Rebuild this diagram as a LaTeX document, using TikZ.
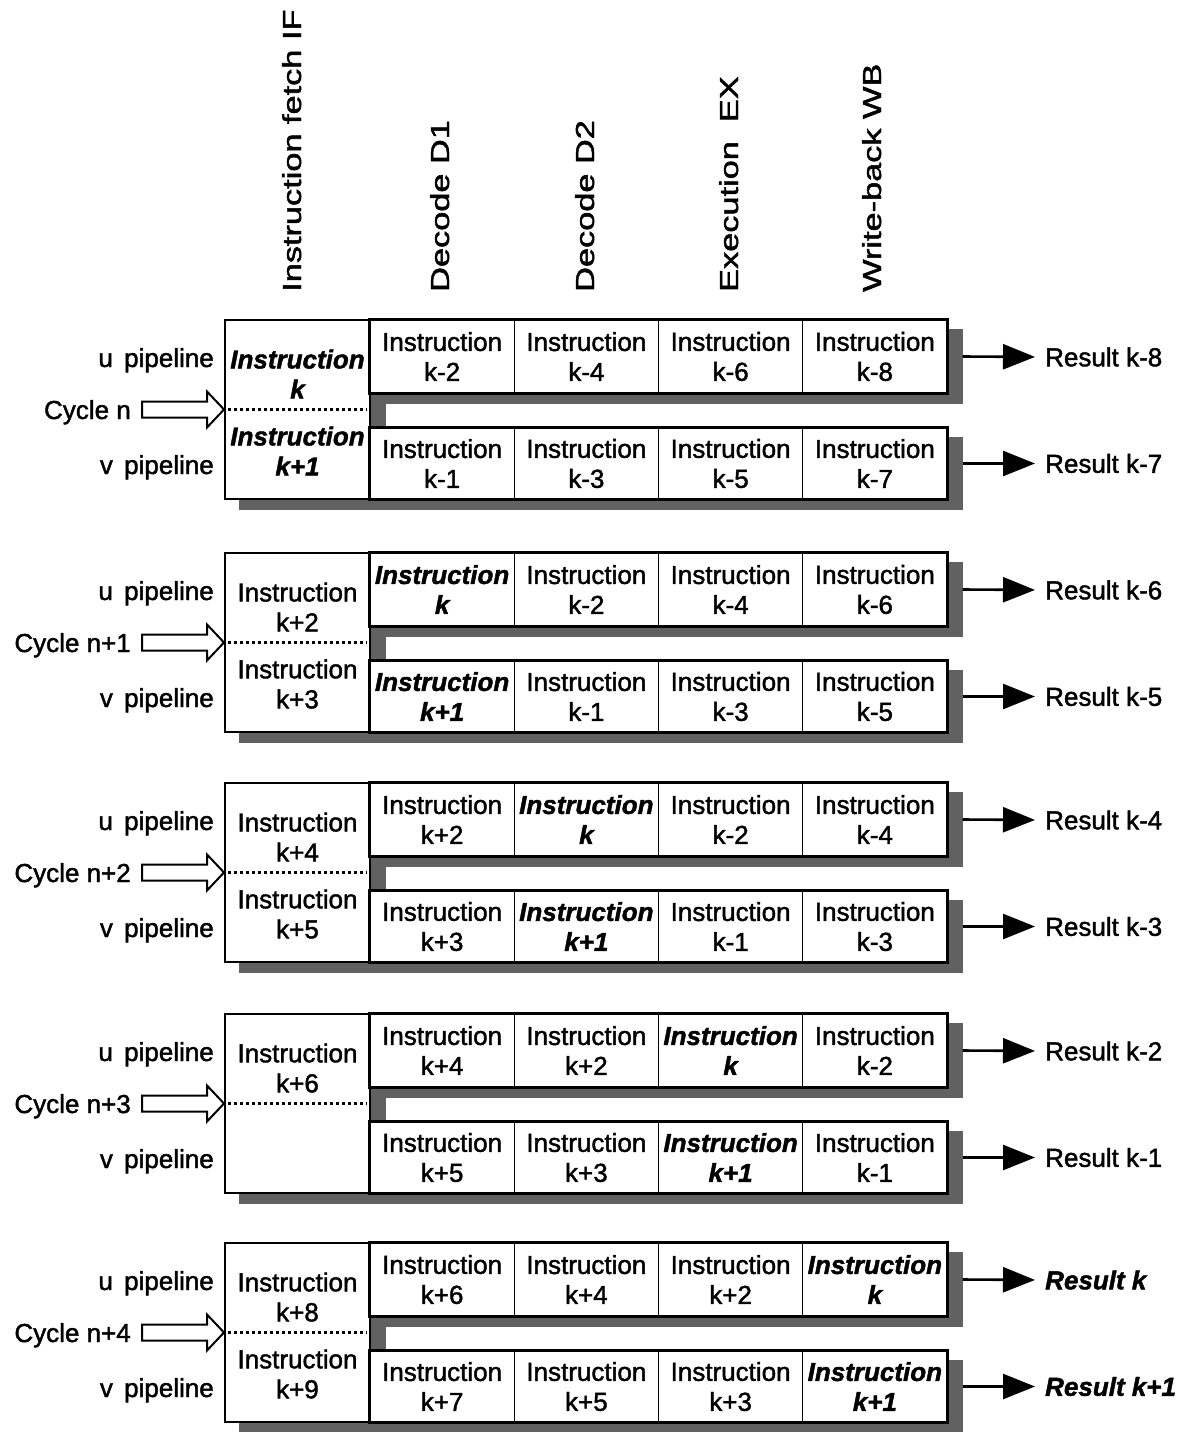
\documentclass[tikz,border=0pt]{standalone}
\usepackage{fontspec}
\usepackage{graphicx}
\setmainfont{Liberation Sans}[FakeBold=1.6]
\usetikzlibrary{arrows.meta}
\pgfdeclarelayer{bg}
\pgfsetlayers{bg,main}
\tikzset{
  txt/.style={font=\fontsize{26}{30}\selectfont, inner sep=0pt},
  hl/.style={font=\fontsize{26}{30}\selectfont\bfseries\itshape},
  cell/.style={txt, draw, line width=1.2pt, fill=white, minimum width=144.25pt, align=center},
  ucell/.style={cell, minimum height=73pt},
  vcell/.style={cell, minimum height=71pt},
  ifbox/.style={draw, line width=2pt, fill=white, minimum width=145pt, minimum height=179pt, inner sep=0pt},
  iftext/.style={txt, align=center},
  frame/.style={line width=2.2pt},
  shade/.style={fill=black!62},
  lab/.style={txt, anchor=base east},
  res/.style={txt, anchor=west},
  hdr/.style={txt, rotate=90, anchor=base west},
  cycarrow/.style={draw, line width=2pt, fill=white, line join=miter},
  outarrow/.style={line width=2.6pt, -{Triangle[length=32pt,width=25pt]}, shorten >=10pt},
  dotline/.style={line width=2.5pt, dash pattern=on 3pt off 3pt},
}
\newcommand\hdrtext[1]{\scalebox{1.32}[1]{#1}}
\begin{document}
\begin{tikzpicture}[x=1pt,y=-1pt]
\useasboundingbox (0,0) rectangle (1187,1432);

% column headers
\node[hdr] (h1) at (301,292) {\hdrtext{Instruction fetch IF}};
\node[hdr] (h2) at (449,292) {\hdrtext{Decode D1}};
\node[hdr] (h3) at (594,292) {\hdrtext{Decode D2}};
\node[hdr] (h4) at (738,292) {\hdrtext{Execution\ \ EX}};
\node[hdr] (h5) at (881,292) {\hdrtext{Write-back WB}};

% ---------------- block 1 : cycle n
\begin{scope}[shift={(0,320)}]
\node[ifbox] (if1) at (297.5,89.5) {};
\node[iftext,hl] (ifu1) at (297.5,54) {Instruction\\k};
\node[iftext,hl] (ifv1) at (297.5,131) {Instruction\\k+1};
\node[ucell] (u-1-1) at (442.125,36.5) {Instruction\\k-2};
\node[ucell] (u-1-2) at (586.375,36.5) {Instruction\\k-4};
\node[ucell] (u-1-3) at (730.625,36.5) {Instruction\\k-6};
\node[ucell] (u-1-4) at (874.875,36.5) {Instruction\\k-8};
\node[vcell] (v-1-1) at (442.125,143.5) {Instruction\\k-1};
\node[vcell] (v-1-2) at (586.375,143.5) {Instruction\\k-3};
\node[vcell] (v-1-3) at (730.625,143.5) {Instruction\\k-5};
\node[vcell] (v-1-4) at (874.875,143.5) {Instruction\\k-7};
\node[lab] (up1) at (214,47) {u\hspace{4pt} pipeline};
\node[lab] (vp1) at (214,154) {v\hspace{4pt} pipeline};
\node[lab] (cy1) at (131,99) {Cycle n};
\node[res] (ru-1) at (1045,37) {Result k-8};
\node[res] (rv-1) at (1045,143.5) {Result k-7};
\end{scope}

% ---------------- block 2 : cycle n+1
\begin{scope}[shift={(0,553)}]
\node[ifbox] (if2) at (297.5,89.5) {};
\node[iftext] (ifu2) at (297.5,54) {Instruction\\k+2};
\node[iftext] (ifv2) at (297.5,131) {Instruction\\k+3};
\node[ucell,hl] (u-2-1) at (442.125,36.5) {Instruction\\k};
\node[ucell] (u-2-2) at (586.375,36.5) {Instruction\\k-2};
\node[ucell] (u-2-3) at (730.625,36.5) {Instruction\\k-4};
\node[ucell] (u-2-4) at (874.875,36.5) {Instruction\\k-6};
\node[vcell,hl] (v-2-1) at (442.125,143.5) {Instruction\\k+1};
\node[vcell] (v-2-2) at (586.375,143.5) {Instruction\\k-1};
\node[vcell] (v-2-3) at (730.625,143.5) {Instruction\\k-3};
\node[vcell] (v-2-4) at (874.875,143.5) {Instruction\\k-5};
\node[lab] (up2) at (214,47) {u\hspace{4pt} pipeline};
\node[lab] (vp2) at (214,154) {v\hspace{4pt} pipeline};
\node[lab] (cy2) at (131,99) {Cycle n+1};
\node[res] (ru-2) at (1045,37) {Result k-6};
\node[res] (rv-2) at (1045,143.5) {Result k-5};
\end{scope}

% ---------------- block 3 : cycle n+2
\begin{scope}[shift={(0,783)}]
\node[ifbox] (if3) at (297.5,89.5) {};
\node[iftext] (ifu3) at (297.5,54) {Instruction\\k+4};
\node[iftext] (ifv3) at (297.5,131) {Instruction\\k+5};
\node[ucell] (u-3-1) at (442.125,36.5) {Instruction\\k+2};
\node[ucell,hl] (u-3-2) at (586.375,36.5) {Instruction\\k};
\node[ucell] (u-3-3) at (730.625,36.5) {Instruction\\k-2};
\node[ucell] (u-3-4) at (874.875,36.5) {Instruction\\k-4};
\node[vcell] (v-3-1) at (442.125,143.5) {Instruction\\k+3};
\node[vcell,hl] (v-3-2) at (586.375,143.5) {Instruction\\k+1};
\node[vcell] (v-3-3) at (730.625,143.5) {Instruction\\k-1};
\node[vcell] (v-3-4) at (874.875,143.5) {Instruction\\k-3};
\node[lab] (up3) at (214,47) {u\hspace{4pt} pipeline};
\node[lab] (vp3) at (214,154) {v\hspace{4pt} pipeline};
\node[lab] (cy3) at (131,99) {Cycle n+2};
\node[res] (ru-3) at (1045,37) {Result k-4};
\node[res] (rv-3) at (1045,143.5) {Result k-3};
\end{scope}

% ---------------- block 4 : cycle n+3
\begin{scope}[shift={(0,1014)}]
\node[ifbox] (if4) at (297.5,89.5) {};
\node[iftext] (ifu4) at (297.5,54) {Instruction\\k+6};
\node[ucell] (u-4-1) at (442.125,36.5) {Instruction\\k+4};
\node[ucell] (u-4-2) at (586.375,36.5) {Instruction\\k+2};
\node[ucell,hl] (u-4-3) at (730.625,36.5) {Instruction\\k};
\node[ucell] (u-4-4) at (874.875,36.5) {Instruction\\k-2};
\node[vcell] (v-4-1) at (442.125,143.5) {Instruction\\k+5};
\node[vcell] (v-4-2) at (586.375,143.5) {Instruction\\k+3};
\node[vcell,hl] (v-4-3) at (730.625,143.5) {Instruction\\k+1};
\node[vcell] (v-4-4) at (874.875,143.5) {Instruction\\k-1};
\node[lab] (up4) at (214,47) {u\hspace{4pt} pipeline};
\node[lab] (vp4) at (214,154) {v\hspace{4pt} pipeline};
\node[lab] (cy4) at (131,99) {Cycle n+3};
\node[res] (ru-4) at (1045,37) {Result k-2};
\node[res] (rv-4) at (1045,143.5) {Result k-1};
\end{scope}

% ---------------- block 5 : cycle n+4
\begin{scope}[shift={(0,1243)}]
\node[ifbox] (if5) at (297.5,89.5) {};
\node[iftext] (ifu5) at (297.5,54) {Instruction\\k+8};
\node[iftext] (ifv5) at (297.5,131) {Instruction\\k+9};
\node[ucell] (u-5-1) at (442.125,36.5) {Instruction\\k+6};
\node[ucell] (u-5-2) at (586.375,36.5) {Instruction\\k+4};
\node[ucell] (u-5-3) at (730.625,36.5) {Instruction\\k+2};
\node[ucell,hl] (u-5-4) at (874.875,36.5) {Instruction\\k};
\node[vcell] (v-5-1) at (442.125,143.5) {Instruction\\k+7};
\node[vcell] (v-5-2) at (586.375,143.5) {Instruction\\k+5};
\node[vcell] (v-5-3) at (730.625,143.5) {Instruction\\k+3};
\node[vcell,hl] (v-5-4) at (874.875,143.5) {Instruction\\k+1};
\node[lab] (up5) at (214,47) {u\hspace{4pt} pipeline};
\node[lab] (vp5) at (214,154) {v\hspace{4pt} pipeline};
\node[lab] (cy5) at (131,99) {Cycle n+4};
\node[res,hl] (ru-5) at (1045,37) {Result k};
\node[res,hl] (rv-5) at (1045,143.5) {Result k+1};
\end{scope}

% decorations shared by every block
\foreach \n in {1,...,5}{
  \begin{pgfonlayer}{bg}
    \fill[shade] ([shift={(15,10)}]if\n.north west) rectangle ([shift={(15,10)}]if\n.south east);
    \fill[shade] ([shift={(15,10)}]u-\n-1.north west) rectangle ([shift={(15,10)}]u-\n-4.south east);
    \fill[shade] ([shift={(15,10)}]v-\n-1.north west) rectangle ([shift={(15,10)}]v-\n-4.south east);
  \end{pgfonlayer}
  \draw[frame] (u-\n-1.north west) rectangle (u-\n-4.south east);
  \draw[frame] (v-\n-1.north west) rectangle (v-\n-4.south east);
  \draw[dotline] ([xshift=4]if\n.west) -- ([xshift=-4]if\n.east);
  \draw[cycarrow] (if\n.west) -- ++(-17,-18) -- ++(0,10) -- ++(-65,0) -- ++(0,16) -- ++(65,0) -- ++(0,10) -- cycle;
  \draw[outarrow] ([xshift=15]u-\n-4.east) -- (ru-\n.west);
  \draw[outarrow] ([xshift=15]v-\n-4.east) -- (rv-\n.west);
}
\end{tikzpicture}
\end{document}
